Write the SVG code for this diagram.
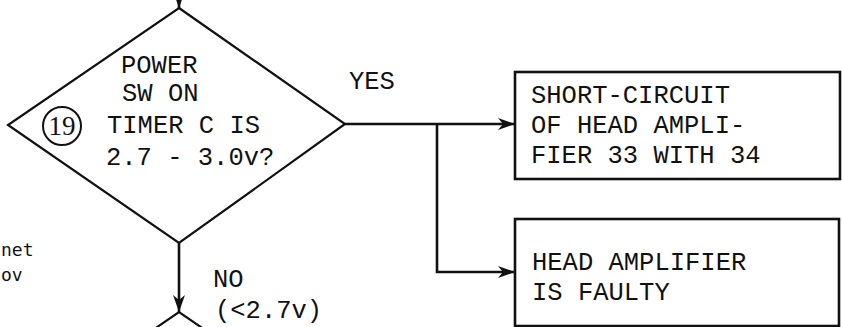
<svg xmlns="http://www.w3.org/2000/svg" width="842" height="327" viewBox="0 0 842 327">
<defs>
<style>
.t{font-family:"Liberation Mono","DejaVu Sans Mono",monospace;font-size:25.5px;fill:#111}
.s{font-family:"DejaVu Sans Mono","Liberation Mono",monospace;font-size:18px;fill:#111}
.shape{fill:#fff;stroke:#111;stroke-width:2.2}
.box{fill:#fff;stroke:#111;stroke-width:2.6}
.c{fill:none;stroke:#111;stroke-width:2.6}
</style>
<marker id="ah" markerUnits="userSpaceOnUse" markerWidth="18" markerHeight="14" refX="17" refY="6" orient="auto">
<path d="M0,0 L17,6 L0,12 L5,6 Z" fill="#111"/>
</marker>
</defs>
<rect width="842" height="327" fill="#fff"/>
<g id="offpage-left">
<text class="s" x="1" y="256">net</text>
<text class="s" x="1" y="281">ov</text>
</g>
<g id="connectors">
<line class="c" x1="179" y1="-20" x2="179" y2="8" stroke-width="3.5" marker-end="url(#ah)"/>
<line class="c" x1="345" y1="124" x2="515" y2="124" marker-end="url(#ah)"/>
<polyline class="c" points="437,124 437,272 515,272" marker-end="url(#ah)"/>
<line class="c" x1="179" y1="243" x2="179" y2="312" marker-end="url(#ah)"/>
<text class="t" x="349" y="89">YES</text>
<text class="t" x="213" y="287">NO</text>
<text class="t" x="215" y="318">(&lt;2.7v)</text>
</g>
<g id="decision-19">
<polygon class="shape" points="179,8 345,124 179,243 8,125"/>
<circle cx="62" cy="126" r="19" fill="none" stroke="#111" stroke-width="2"/>
<text x="62" y="135" text-anchor="middle" font-family="Liberation Serif, serif" font-size="27" fill="#111">19</text>
<text class="t" x="121" y="73">POWER</text>
<text class="t" x="122" y="101">SW ON</text>
<text class="t" x="107" y="133">TIMER C IS</text>
<text class="t" x="106" y="165">2.7 - 3.0v?</text>
</g>
<g id="box-short-circuit">
<rect class="box" x="515" y="72" width="325" height="107"/>
<text class="t" x="531" y="103">SHORT-CIRCUIT</text>
<text class="t" x="531" y="133">OF HEAD AMPLI-</text>
<text class="t" x="531" y="163">FIER 33 WITH 34</text>
</g>
<g id="box-head-amp-faulty">
<rect class="box" x="515" y="219" width="324" height="107"/>
<text class="t" x="532" y="270">HEAD AMPLIFIER</text>
<text class="t" x="532" y="300">IS FAULTY</text>
</g>
<g id="next-decision">
<polyline class="shape" fill="none" points="150,332 179,312 208,332"/>
</g>
</svg>
